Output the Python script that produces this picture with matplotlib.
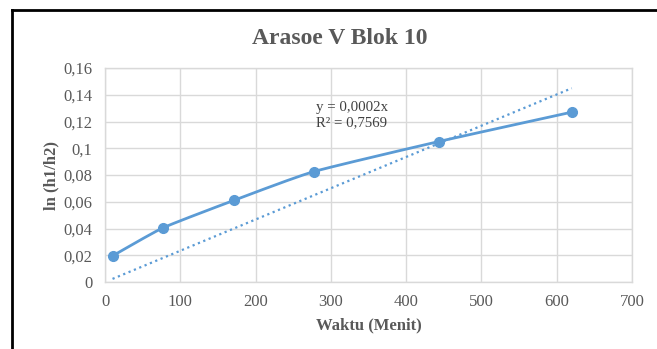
import numpy as np
import matplotlib
matplotlib.use("Agg")
import matplotlib.pyplot as plt
from matplotlib.ticker import FuncFormatter, MultipleLocator
from matplotlib.lines import Line2D

# Data
waktu = [10, 77, 171, 277, 443, 620]
ln_h = [0.0195, 0.0405, 0.061, 0.0825, 0.105, 0.127]
title = "Arasoe V Blok 10"
xlabel = "Waktu (Menit)"
ylabel = "ln (h1/h2)"
eq_text = "y = 0,0002x\nR² = 0,7569"

plt.rcParams['font.family'] = ['Liberation Serif', 'DejaVu Serif']

W, H = 657, 349
fig = plt.figure(figsize=(W/100, H/100), dpi=100)
ax = fig.add_axes([105/W, 1-282/H, (632-105)/W, (282-68)/H])

x = np.array(waktu, float)
y = np.array(ln_h, float)

# Smoothed line (cubic Bezier through data points, reduced tension)
def smooth(xp, yp, k=0.5, n=30):
    P = np.column_stack([xp, yp])
    Pe = np.vstack([P[0], P, P[-1]])
    out = []
    for i in range(1, len(Pe)-2):
        p0, p1, p2, p3 = Pe[i-1], Pe[i], Pe[i+1], Pe[i+2]
        c1 = p1 + (p2 - p0) / 6 * k
        c2 = p2 - (p3 - p1) / 6 * k
        t = np.linspace(0, 1, n)[:, None]
        b = (1-t)**3*p1 + 3*(1-t)**2*t*c1 + 3*(1-t)*t**2*c2 + t**3*p2
        out.append(b)
    return np.vstack(out)

curve = smooth(x, y)
col = '#5b9bd5'
ax.plot(curve[:, 0], curve[:, 1], color=col, lw=2, zorder=3, solid_capstyle='round')
ax.plot(x, y, 'o', color=col, ms=7, zorder=4)

# Linear trendline through origin
slope = np.sum(x*y)/np.sum(x*x)
xt = np.array([x.min(), x.max()])
ax.plot(xt, slope*xt, color=col, lw=1.6, ls=(0, (1, 1.6)), zorder=2)

ax.text((316-105)/(632-105), 1-(101-68)/(282-68), eq_text, fontsize=10.7, color='#404040',
        va='top', ha='left', transform=ax.transAxes, linespacing=1.25)

ax.set_xlim(0, 700)
ax.set_ylim(0, 0.16)
ax.xaxis.set_major_locator(MultipleLocator(100))
ax.yaxis.set_major_locator(MultipleLocator(0.02))

def fmt(v, pos):
    s = ('%.2f' % v).rstrip('0').rstrip('.')
    return s.replace('.', ',')
ax.yaxis.set_major_formatter(FuncFormatter(fmt))
ax.xaxis.set_major_formatter(FuncFormatter(lambda v, p: '%d' % v))

ax.grid(True, color='#d9d9d9', lw=1)
ax.set_axisbelow(True)
for s in ax.spines.values():
    s.set_color('#d9d9d9')
    s.set_linewidth(1)
ax.tick_params(length=0, labelsize=12, colors='#595959')
ax.tick_params(axis='y', pad=9)
ax.tick_params(axis='x', pad=9)

ax.set_xlabel(xlabel, fontsize=12, fontweight='bold', color='#595959', labelpad=5)
ax.set_ylabel(ylabel, fontsize=12, fontweight='bold', color='#595959', labelpad=3)

fig.text(340/W, 1-39/H, title, fontsize=17, fontweight='bold', color='#595959',
         ha='center', va='center')

# Outer border (left and top visible)
fig.add_artist(Line2D([12/W, 12/W], [0, 1-10/H], transform=fig.transFigure, color='black', lw=2))
fig.add_artist(Line2D([12/W, 1], [1-10/H, 1-10/H], transform=fig.transFigure, color='black', lw=2))

fig.savefig('out.png', dpi=100)
